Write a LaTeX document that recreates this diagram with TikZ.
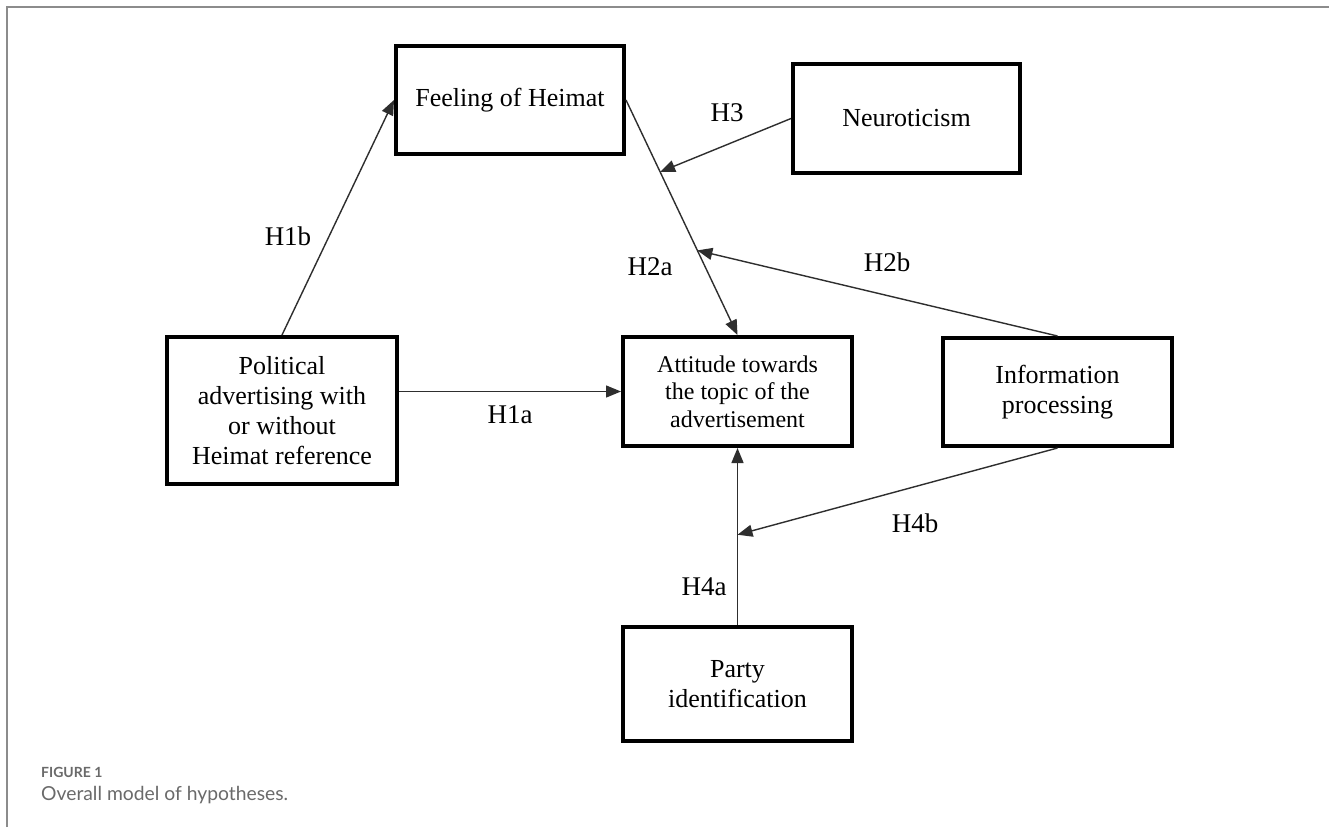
\documentclass[tikz,border=0pt]{standalone}
\usepackage{fontspec}
\setmainfont{Liberation Serif}
\newfontfamily\capfont{Lato}
\usetikzlibrary{arrows.meta,calc}
\definecolor{framegray}{HTML}{8C8C8C}
\definecolor{arrowcol}{HTML}{2E2E2E}
\definecolor{capgray}{HTML}{6A6A6A}
\begin{document}
\begin{tikzpicture}[x=1pt,y=-1pt,
  box/.style={draw=black,line width=4pt,fill=white,align=center,inner sep=0pt,
    font=\fontsize{26}{30}\selectfont},
  arr/.style={draw=arrowcol,line width=1.4pt,-{Triangle[length=15pt,width=12pt]}},
  hlab/.style={font=\fontsize{27}{30}\selectfont,inner sep=0pt},
  frameline/.style={draw=framegray,line width=2.5pt}]
\useasboundingbox (0,0) rectangle (1329,827);
\fill[white] (0,0) rectangle (1329,827);
% frame
\coordinate (fa) at (7,827);
\coordinate (fb) at (7,7);
\coordinate (fc) at (1329,7);
\draw[frameline] (fa) -- (fb) -- (fc);
% boxes
\node[box,minimum width=228pt,minimum height=108pt] (feel) at (510,100) {Feeling of Heimat};
\node[box,minimum width=227pt,minimum height=109pt] (neuro) at (906.5,118.5) {Neuroticism};
\node[box,minimum width=230pt,minimum height=147pt] (pol) at (282,410.5) {Political\\advertising with\\or without\\Heimat reference};
\node[box,minimum width=229pt,minimum height=109pt,font=\fontsize{24}{27.5}\selectfont] (att) at (737.5,391.5) {Attitude towards\\the topic of the\\advertisement};
\node[box,minimum width=229pt,minimum height=108pt] (info) at (1057.5,392) {Information\\processing};
\node[box,minimum width=229pt,minimum height=114pt] (party) at (737.5,684) {Party\\identification};
% points on connectors
\coordinate (p3) at ($(feel.east)!0.306!(att.north)$);
\coordinate (p2b) at ($(feel.east)!0.64!(att.north)$);
\coordinate (p4b) at ($(party.north)!0.51!(att.south)$);
% connectors
\draw[arr] (pol.north) -- (feel.west);
\draw[arr] (pol.east |- att.west) -- (att.west);
\draw[arr] (feel.east) -- (att.north);
\draw[arr] (neuro.west) -- (p3);
\draw[arr] (info.north) -- (p2b);
\draw[arr] (party.north) -- (att.south);
\draw[arr] (info.south) -- (p4b);
% labels
\node[hlab] (l1a) at (510,415) {H1a};
\node[hlab] (l1b) at (288,236) {H1b};
\node[hlab] (l2a) at (650,267) {H2a};
\node[hlab] (l2b) at (887,262) {H2b};
\node[hlab] (l3) at (727,113) {H3};
\node[hlab] (l4a) at (704,587) {H4a};
\node[hlab] (l4b) at (915,523) {H4b};
% caption
\node[anchor=west,inner sep=0pt,text=capgray,font=\capfont\bfseries\fontsize{14}{16}\selectfont] (fig) at (41,772) {FIGURE 1};
\node[anchor=west,inner sep=0pt,text=capgray,font=\capfont\fontsize{19.3}{22}\selectfont] (cap) at (41,795) {Overall model of hypotheses.};
\end{tikzpicture}
\end{document}
